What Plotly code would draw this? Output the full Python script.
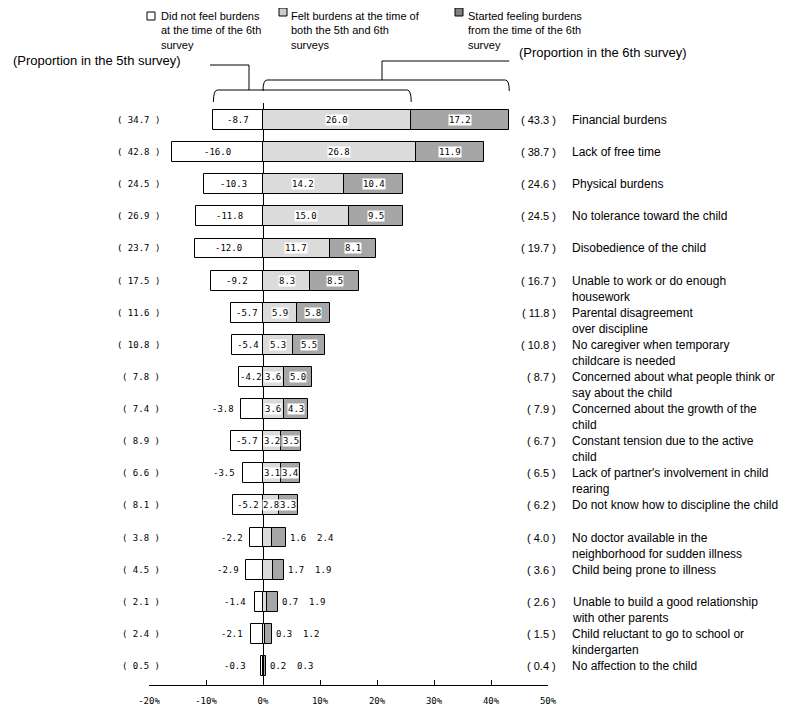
import plotly.graph_objects as go

categories = [
    "Financial burdens",
    "Lack of free time",
    "Physical burdens",
    "No tolerance toward the child",
    "Disobedience of the child",
    "Unable to work or do enough<br>housework",
    "Parental disagreement<br>over discipline",
    "No caregiver when temporary<br>childcare is needed",
    "Concerned about what people think or<br>say about the child",
    "Concerned about the growth of the<br>child",
    "Constant tension due to the active<br>child",
    "Lack of partner's involvement in child<br>rearing",
    "Do not know how to discipline the child",
    "No doctor available in the<br>neighborhood for sudden illness",
    "Child being prone to illness",
    "Unable to build a good relationship<br>with other parents",
    "Child reluctant to go to school or<br>kindergarten",
    "No affection to the child",
]
not_felt_6th = [-8.7, -16.0, -10.3, -11.8, -12.0, -9.2, -5.7, -5.4, -4.2, -3.8, -5.7, -3.5, -5.2, -2.2, -2.9, -1.4, -2.1, -0.3]
felt_both = [26.0, 26.8, 14.2, 15.0, 11.7, 8.3, 5.9, 5.3, 3.6, 3.6, 3.2, 3.1, 2.8, 1.6, 1.7, 0.7, 0.3, 0.2]
started_6th = [17.2, 11.9, 10.4, 9.5, 8.1, 8.5, 5.8, 5.5, 5.0, 4.3, 3.5, 3.4, 3.3, 2.4, 1.9, 1.9, 1.2, 0.3]
prop_5th = [34.7, 42.8, 24.5, 26.9, 23.7, 17.5, 11.6, 10.8, 7.8, 7.4, 8.9, 6.6, 8.1, 3.8, 4.5, 2.1, 2.4, 0.5]
prop_6th = [43.3, 38.7, 24.6, 24.5, 19.7, 16.7, 11.8, 10.8, 8.7, 7.9, 6.7, 6.5, 6.2, 4.0, 3.6, 2.6, 1.5, 0.4]
x_ticks = [-20, -10, 0, 10, 20, 30, 40, 50]
x_tick_labels = ["-20%", "-10%", "0%", "10%", "20%", "30%", "40%", "50%"]
legend_texts = [
    ["Did not feel burdens", "at the time of the 6th", "survey"],
    ["Felt burdens at the time of", "both the 5th and 6th", "surveys"],
    ["Started feeling burdens", "from the time of the 6th", "survey"],
]
bracket_texts = ["(Proportion in the 5th survey)", "(Proportion in the 6th survey)"]

# page geometry (reference pixel space); the page body has an 8px margin
W, H = 787, 714
OFF = 8
PLOT_L, PLOT_R, PLOT_T, PLOT_B = 149, 548, 103, 685
FW, FH = W - 2 * OFF, H - OFF
X0, X1 = -20, 50
n = len(categories)
ROW0, ROWN = 120, 666
step = (ROWN - ROW0) / (n - 1)
y_top = -(ROW0 - PLOT_T) / step
y_bot = (n - 1) + (PLOT_B - ROWN) / step
PW = PLOT_R - PLOT_L
PH = PLOT_B - PLOT_T


def px_x(px):
    return X0 + (px - PLOT_L) / PW * (X1 - X0)


def paper_x(px):
    return (px - PLOT_L) / PW


def paper_y(py):
    return (PLOT_B - py) / PH


SANS = "Liberation Sans, Arial, sans-serif"
MONO = "DejaVu Sans Mono, monospace"
ypos = list(range(n))

fig = go.Figure()
line = dict(color="black", width=1)
fig.add_trace(go.Bar(x=not_felt_6th, y=ypos, orientation="h", width=0.62,
                     marker=dict(color="white", line=line), name=" ".join(legend_texts[0])))
fig.add_trace(go.Bar(x=felt_both, y=ypos, orientation="h", width=0.62,
                     marker=dict(color="white", line=line,
                                 pattern=dict(shape=".", fgcolor="#333333", bgcolor="white",
                                              size=2, solidity=0.35)),
                     name=" ".join(legend_texts[1])))
fig.add_trace(go.Bar(x=started_6th, y=ypos, orientation="h", width=0.62,
                     marker=dict(color="white", line=line,
                                 pattern=dict(shape=".", fgcolor="#000000", bgcolor="white",
                                              size=2, solidity=0.7)),
                     name=" ".join(legend_texts[2])))

ann = []
numfont = dict(family=MONO, size=9, color="black")
labfont = dict(family=SANS, size=12, color="black")
for i in range(n):
    nf, fb, st = not_felt_6th[i], felt_both[i], started_6th[i]
    if abs(nf) >= 4:
        ann.append(dict(x=nf / 2, y=i, text=f"{nf:.1f}", showarrow=False, font=numfont,
                        xanchor="center", yanchor="middle"))
    else:
        ann.append(dict(x=min(nf - 1.0, -2.6), y=i, text=f"{nf:.1f}", showarrow=False, font=numfont,
                        xanchor="right", yanchor="middle"))
    if fb >= 2.8:
        ann.append(dict(x=fb / 2, y=i, text=f"{fb:.1f}", showarrow=False, font=numfont,
                        bgcolor="white", borderpad=0, xanchor="center", yanchor="middle"))
        ann.append(dict(x=fb + st / 2, y=i, text=f"{st:.1f}", showarrow=False, font=numfont,
                        bgcolor="white", borderpad=0, xanchor="center", yanchor="middle"))
    else:
        ann.append(dict(x=fb + st, y=i, text=f"{fb:.1f}\u00a0\u00a0{st:.1f}", showarrow=False,
                        font=numfont, xanchor="left", yanchor="middle", xshift=2))
    ann.append(dict(xref="paper", x=paper_x(162), y=i, text=f"( {prop_5th[i]:.1f} )",
                    showarrow=False, font=numfont, xanchor="right", yanchor="middle"))
    ann.append(dict(xref="paper", x=paper_x(558), y=i, text=f"( {prop_6th[i]:.1f} )",
                    showarrow=False, font=dict(family=SANS, size=11, color="black"),
                    xanchor="right", yanchor="middle"))
    ann.append(dict(xref="paper", x=paper_x(570), y=i, text=categories[i], showarrow=False,
                    font=labfont, xanchor="left", yanchor="top", yshift=9, align="left"))

ann.append(dict(xref="paper", yref="paper", x=paper_x(183), y=paper_y(60), text=bracket_texts[0],
                showarrow=False, font=dict(family=SANS, size=13, color="black"),
                xanchor="right", yanchor="middle"))
ann.append(dict(xref="paper", yref="paper", x=paper_x(517), y=paper_y(52), text=bracket_texts[1],
                showarrow=False, font=dict(family=SANS, size=13, color="black"),
                xanchor="left", yanchor="middle"))

shapes = []
legend_box_px = [(147, 12), (279, 8), (455, 8)]
legend_text_px = [159, 289, 466]
legend_fill = ["white", "#cccccc", "#808080"]
for k in range(3):
    bx, by = legend_box_px[k]
    shapes.append(dict(type="rect", xref="paper", yref="paper", x0=paper_x(bx), x1=paper_x(bx + 8),
                       y0=paper_y(by + 8), y1=paper_y(by), fillcolor=legend_fill[k],
                       line=dict(color="black", width=1)))
    ann.append(dict(xref="paper", yref="paper", x=paper_x(legend_text_px[k]), y=paper_y(8),
                    text="<br>".join(legend_texts[k]), showarrow=False,
                    font=dict(family=SANS, size=11, color="black"),
                    xanchor="left", yanchor="top", align="left"))

r = 4 / PW * (X1 - X0)
xa, xb = not_felt_6th[0], felt_both[0]
yb, yt = paper_y(102), paper_y(90)
shapes.append(dict(type="path", xref="x", yref="paper",
                   path=f"M {xa},{yb} Q {xa},{yt} {xa + r},{yt} L {xb - r},{yt} Q {xb},{yt} {xb},{yb}",
                   line=dict(color="black", width=1)))
sx = px_x(249)
shapes.append(dict(type="path", xref="x", yref="paper",
                   path=f"M {sx},{yt} L {sx},{paper_y(65)} L {px_x(210)},{paper_y(65)}",
                   line=dict(color="black", width=1)))
xa, xb = 0, felt_both[0] + started_6th[0]
yb, yt = paper_y(91), paper_y(80)
shapes.append(dict(type="path", xref="x", yref="paper",
                   path=f"M {xa},{yb} Q {xa},{yt} {xa + r},{yt} L {xb - r},{yt} Q {xb},{yt} {xb},{yb}",
                   line=dict(color="black", width=1)))
sx = px_x(382)
shapes.append(dict(type="path", xref="x", yref="paper",
                   path=f"M {sx},{yt} L {sx},{paper_y(61)} L {xb},{paper_y(61)}",
                   line=dict(color="black", width=1)))

fig.update_layout(
    width=FW, height=FH, autosize=False,
    margin=dict(l=PLOT_L - OFF, r=FW - (PLOT_R - OFF), t=PLOT_T - OFF, b=FH - (PLOT_B - OFF), pad=0,
                autoexpand=False),
    paper_bgcolor="white", plot_bgcolor="white",
    barmode="relative", bargap=0, showlegend=False,
    annotations=ann, shapes=shapes,
    font=dict(family=SANS, size=11, color="black"),
)
fig.update_xaxes(range=[X0, X1], tickvals=x_ticks, ticktext=x_tick_labels, ticks="inside", ticklen=5,
                 tickcolor="black", showline=True, linecolor="black", linewidth=1,
                 showgrid=False, zeroline=True, zerolinecolor="black", zerolinewidth=1,
                 tickfont=dict(family=MONO, size=9, color="black"), ticklabelstandoff=7,
                 automargin=False, fixedrange=True)
fig.update_yaxes(range=[y_bot, y_top], visible=False, showgrid=False, zeroline=False,
                 automargin=False, fixedrange=True)

fig.write_html("out.html")
